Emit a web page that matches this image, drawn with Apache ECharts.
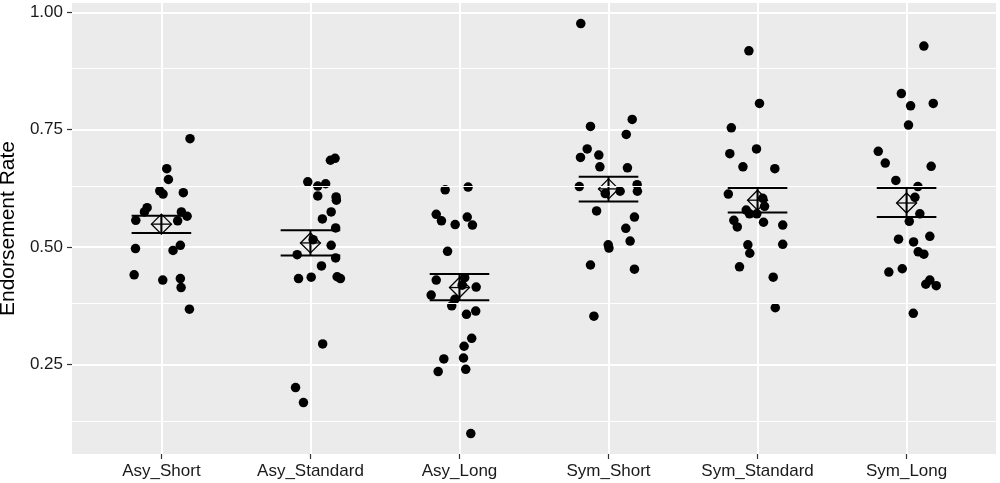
<!DOCTYPE html>
<html>
<head>
<meta charset="utf-8">
<script src="https://cdn.jsdelivr.net/npm/echarts@6/dist/echarts.min.js"></script>
<style>
html,body{margin:0;padding:0;background:#fff;}
#chart{width:1000px;height:483px;}
</style>
</head>
<body>
<div id="chart"></div>
<script>
// Categories (x axis)
var categories = ['Asy_Short', 'Asy_Standard', 'Asy_Long', 'Sym_Short', 'Sym_Standard', 'Sym_Long'];
// Y tick labels
var yTicks = [0.25, 0.50, 0.75, 1.00];
var yMinorTicks = [0.125, 0.375, 0.625, 0.875];

// Per-group endorsement rates and horizontal jitter (category units)
var asyShortVals   = [0.731,0.667,0.644,0.620,0.613,0.616,0.584,0.575,0.557,0.575,0.566,0.556,0.497,0.493,0.504,0.441,0.430,0.433,0.414,0.368];
var asyShortJit    = [0.192,0.036,0.047,-0.011,0.011,0.147,-0.096,-0.114,-0.172,0.134,0.172,0.109,-0.174,0.078,0.127,-0.183,0.009,0.127,0.132,0.188];

var asyStandardVals = [0.685,0.689,0.639,0.630,0.635,0.609,0.607,0.600,0.575,0.560,0.541,0.516,0.504,0.484,0.477,0.460,0.433,0.436,0.437,0.433,0.294,0.201,0.169];
var asyStandardJit  = [0.134,0.165,-0.018,0.049,0.102,0.049,0.172,0.174,0.139,0.080,0.169,0.018,0.139,-0.089,0.169,0.074,-0.080,0.005,0.179,0.201,0.082,-0.100,-0.047];

var asyLongVals = [0.622,0.628,0.570,0.556,0.548,0.564,0.547,0.491,0.430,0.435,0.419,0.415,0.398,0.389,0.375,0.357,0.364,0.306,0.289,0.262,0.264,0.235,0.240,0.103];
var asyLongJit  = [-0.096,0.058,-0.156,-0.121,-0.029,0.052,0.087,-0.080,-0.156,0.035,0.018,0.112,-0.190,-0.031,-0.052,0.047,0.109,0.082,0.031,-0.105,0.027,-0.143,0.042,0.076];

var symShortVals = [0.976,0.772,0.757,0.740,0.709,0.691,0.696,0.671,0.669,0.629,0.633,0.619,0.619,0.614,0.577,0.564,0.540,0.513,0.505,0.498,0.462,0.453,0.353];
var symShortJit  = [-0.186,0.159,-0.121,0.119,-0.143,-0.188,-0.065,-0.058,0.127,-0.196,0.192,0.194,0.078,-0.022,-0.080,0.174,0.116,0.145,-0.002,0.003,-0.121,0.174,-0.098];

var symStandardVals = [0.918,0.806,0.754,0.699,0.709,0.671,0.667,0.613,0.604,0.587,0.579,0.571,0.571,0.557,0.543,0.553,0.547,0.505,0.487,0.506,0.458,0.436,0.371];
var symStandardJit  = [-0.058,0.013,-0.176,-0.186,-0.007,-0.098,0.116,-0.196,0.035,0.047,-0.076,-0.054,-0.005,-0.159,-0.136,0.040,0.169,-0.065,-0.052,0.169,-0.121,0.105,0.119];

var symLongVals = [0.928,0.827,0.801,0.806,0.760,0.704,0.679,0.672,0.642,0.629,0.606,0.571,0.555,0.517,0.511,0.523,0.490,0.485,0.447,0.454,0.430,0.421,0.418,0.359];
var symLongJit  = [0.116,-0.035,0.027,0.179,0.013,-0.190,-0.143,0.165,-0.072,0.076,0.056,0.089,0.018,-0.054,0.047,0.156,0.078,0.116,-0.119,-0.029,0.156,0.129,0.199,0.045];

// Group summaries: mean and mean +/- SE
var groupMeans = [0.549, 0.509, 0.414, 0.624, 0.600, 0.594];
var groupUpper = [0.567, 0.536, 0.443, 0.650, 0.626, 0.626];
var groupLower = [0.530, 0.482, 0.387, 0.597, 0.574, 0.564];

var groupVals = [asyShortVals, asyStandardVals, asyLongVals, symShortVals, symStandardVals, symLongVals];
var groupJit  = [asyShortJit, asyStandardJit, asyLongJit, symShortJit, symStandardJit, symLongJit];

var pointData = [];
groupVals.forEach(function (vals, g) {
  vals.forEach(function (v, i) { pointData.push([g + groupJit[g][i], v]); });
});
var summaryData = categories.map(function (c, g) {
  return [g, groupMeans[g], groupLower[g], groupUpper[g]];
});

var chart = echarts.init(document.getElementById('chart'), null, {renderer: 'canvas'});
var FONT = 'Liberation Sans, Arial, sans-serif';

chart.setOption({
  animation: false,
  backgroundColor: '#ffffff',
  grid: {left: 72, right: 4, top: 3, bottom: 29, show: true, backgroundColor: '#EBEBEB', borderWidth: 0,
         containLabel: false, outerBoundsMode: 'none'},
  xAxis: {
    type: 'value', min: -0.6, max: 5.6,
    axisLine: {show: false, onZero: false},
    axisTick: {show: true, length: 5, lineStyle: {color: '#333333', width: 1.2}, customValues: [0,1,2,3,4,5]},
    axisLabel: {
      customValues: [0,1,2,3,4,5], margin: 9, color: '#1a1a1a', fontSize: 17, fontFamily: FONT,
      formatter: function (v) { return categories[Math.round(v)]; }
    },
    splitLine: {show: true, lineStyle: {color: '#ffffff', width: 2}}
  },
  yAxis: {
    type: 'value', min: 0.0596, max: 1.0198,
    name: 'Endorsement Rate', nameLocation: 'middle', nameRotate: 90, nameGap: 47,
    nameTextStyle: {fontSize: 21, color: '#000', fontFamily: FONT},
    axisLine: {show: false, onZero: false},
    axisTick: {show: true, length: 5, lineStyle: {color: '#333333', width: 1.2}, customValues: yTicks},
    axisLabel: {
      customValues: yTicks, margin: 9, color: '#1a1a1a', fontSize: 17, fontFamily: FONT,
      formatter: function (v) { return v.toFixed(2); }
    },
    splitLine: {show: true, lineStyle: {color: '#ffffff', width: 2}}
  },
  series: [
    {
      type: 'line', data: [], z: 1, silent: true,
      markLine: {
        silent: true, symbol: 'none', label: {show: false}, animation: false,
        lineStyle: {color: '#ffffff', width: 1.1, type: 'solid'},
        data: yMinorTicks.map(function (v) { return {yAxis: v}; })
      }
    },
    {
      type: 'scatter', data: pointData, symbol: 'circle', symbolSize: 9.5, z: 3,
      itemStyle: {color: '#000000', opacity: 1}
    },
    {
      type: 'custom', data: summaryData, z: 4,
      renderItem: function (params, api) {
        var x = api.value(0), m = api.value(1), lo = api.value(2), hi = api.value(3);
        var pL = api.coord([x - 0.2, lo]), pR = api.coord([x + 0.2, lo]);
        var qL = api.coord([x - 0.2, hi]), qR = api.coord([x + 0.2, hi]);
        var c = api.coord([x, m]);
        var s = {stroke: '#000', lineWidth: 2, fill: null};
        var d = 10;
        var ds = {stroke: '#000', lineWidth: 1.3, fill: null};
        return {
          type: 'group',
          children: [
            {type: 'line', shape: {x1: pL[0], y1: pL[1], x2: pR[0], y2: pR[1]}, style: s},
            {type: 'line', shape: {x1: qL[0], y1: qL[1], x2: qR[0], y2: qR[1]}, style: s},
            {type: 'line', shape: {x1: c[0], y1: pL[1], x2: c[0], y2: qL[1]}, style: s},
            {type: 'polygon', shape: {points: [[c[0], c[1]-d],[c[0]+d, c[1]],[c[0], c[1]+d],[c[0]-d, c[1]]]}, style: ds},
            {type: 'line', shape: {x1: c[0]-d, y1: c[1], x2: c[0]+d, y2: c[1]}, style: ds},
            {type: 'line', shape: {x1: c[0], y1: c[1]-d, x2: c[0], y2: c[1]+d}, style: ds}
          ]
        };
      }
    }
  ]
});
</script>
</body>
</html>
